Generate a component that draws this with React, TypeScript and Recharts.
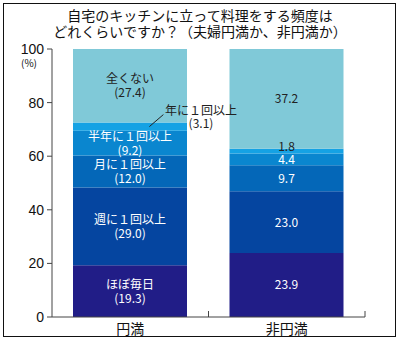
import React from 'react';
import { BarChart, Bar, XAxis, YAxis, LabelList } from 'recharts';

const categories = ['円満', '非円満'];
const seriesNames = ['ほぼ毎日', '週に１回以上', '月に１回以上', '半年に１回以上', '年に１回以上', '全くない'];
const enmanValues = [19.3, 29.0, 12.0, 9.2, 3.1, 27.4];
const hienmanValues = [23.9, 23.0, 9.7, 4.4, 1.8, 37.2];
const seriesColors = ['#211d87', '#0545a0', '#0467b8', '#0a86cf', '#15a2e4', '#80c9d8'];
const yTicks = [0, 20, 40, 60, 80, 100];
const titleLines = ['自宅のキッチンに立って料理をする頻度は', 'どれくらいですか？（夫婦円満か、非円満か）'];

const keys = seriesNames.map((_, i) => `s${i}`);
const data = categories.map((cat, ci) => {
  const row: any = { cat };
  const vals = ci === 0 ? enmanValues : hienmanValues;
  keys.forEach((k, i) => (row[k] = vals[i]));
  return row;
});

const FONT = "'Noto Sans CJK JP', sans-serif";
const NUMFONT = "'Liberation Sans Narrow', 'Liberation Sans', sans-serif";

const fmt = (v: number) => v.toFixed(1);

function makeLabel(si: number) {
  return (props: any) => {
    const { x, y, width, height, value, index } = props;
    const cx = x + width / 2;
    const cy = y + height / 2;
    const dark = si === 5;
    const fill = dark ? '#222' : '#fff';
    if (index === 0) {
      if (si === 4) {
        const lx = x + width * 0.67;
        const tx = x + width + 14;
        return (
          <g>
            <line x1={lx} y1={cy} x2={lx + 14} y2={cy - 12} stroke="#222" strokeWidth={1} />
            <text x={tx} y={cy - 12} textAnchor="middle" fontSize={12} fontFamily={FONT} fill="#222">
              <tspan x={tx}>{seriesNames[si]}</tspan>
              <tspan x={tx} dy={13}>({fmt(value)})</tspan>
            </text>
          </g>
        );
      }
      return (
        <text x={cx} y={cy - 2.5} textAnchor="middle" fontSize={12} fontFamily={FONT} fill={fill}>
          <tspan x={cx}>{seriesNames[si]}</tspan>
          <tspan x={cx} dy={14}>({fmt(value)})</tspan>
        </text>
      );
    }
    const small = height < 8;
    return (
      <text
        x={cx}
        y={small ? y + 2 : cy + 4.5}
        textAnchor="middle"
        fontSize={12}
        fontFamily={FONT}
        fill={small || dark ? '#222' : '#fff'}
      >
        {fmt(value)}
      </text>
    );
  };
}

const CatTick = (props: any) => {
  const { x, y, payload, width, visibleTicksCount } = props;
  const band = width && visibleTicksCount ? width / visibleTicksCount : 0;
  const bx = x + band / 2;
  return (
    <g>
      {band > 0 && <line x1={bx} y1={y - 6} x2={bx} y2={y} stroke="#444" strokeWidth={1} />}
      <text x={x} y={y + 17} textAnchor="middle" fontSize={14} fontFamily={FONT} fill="#111">
        {payload.value}
      </text>
    </g>
  );
};

export default function App() {
  return (
    <div style={{ position: 'absolute', left: 0, top: 0, width: 400, height: 342, background: '#fff' }}>
      <div
        style={{
          position: 'absolute',
          left: 3,
          top: 3,
          width: 391,
          height: 332,
          border: '1.5px solid #111',
        }}
      />
      <div
        style={{
          position: 'absolute',
          left: 0,
          top: 7,
          width: 400,
          textAlign: 'center',
          fontFamily: FONT,
          fontSize: 14,
          lineHeight: '16px',
          color: '#111',
        }}
      >
        {titleLines.map((t) => (
          <div key={t}>{t}</div>
        ))}
      </div>
      <div
        style={{
          position: 'absolute',
          left: 21,
          top: 57,
          fontFamily: FONT,
          fontSize: 10,
          lineHeight: '12px',
          color: '#111',
        }}
      >
        (%)
      </div>
      <BarChart
        width={400}
        height={342}
        data={data}
        margin={{ top: 49, right: 35, bottom: 0, left: 0 }}
        style={{ position: 'absolute', left: 0, top: 0 }}
      >
        <XAxis
          dataKey="cat"
          height={25}
          tickLine={false}
          axisLine={{ stroke: '#444' }}
          tick={<CatTick />}
          tickSize={0}
          tickMargin={0}
          interval={0}
        />
        <YAxis
          width={52}
          domain={[0, 100]}
          ticks={yTicks}
          tickSize={5}
          tickLine={{ stroke: '#444' }}
          axisLine={{ stroke: '#444' }}
          tick={{ fontSize: 14, fontFamily: NUMFONT, fill: '#111' }}
          tickMargin={3}
        />
        {keys.map((k, i) => (
          <Bar key={k} dataKey={k} stackId="a" fill={seriesColors[i]} barSize={114} isAnimationActive={false}>
            <LabelList dataKey={k} content={makeLabel(i)} />
          </Bar>
        ))}
      </BarChart>
    </div>
  );
}
